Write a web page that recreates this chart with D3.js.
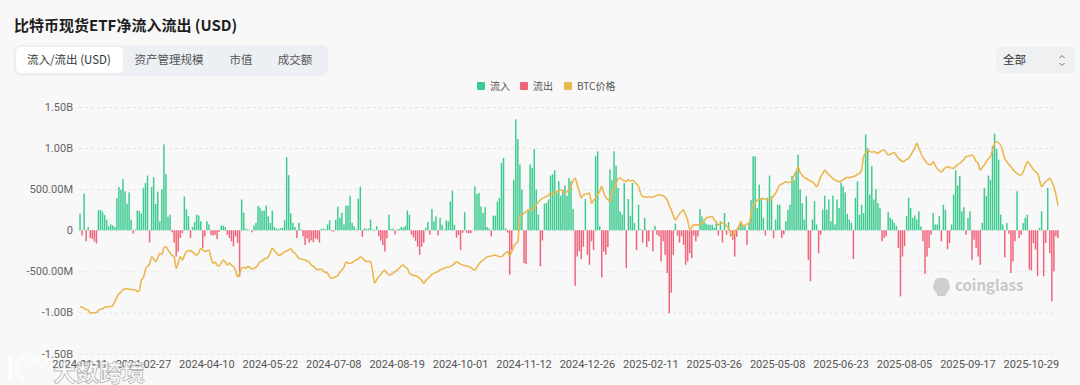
<!DOCTYPE html>
<html>
<head>
<meta charset="utf-8">
<script src="https://cdn.jsdelivr.net/npm/d3@7"></script>
<style>
  body { margin: 0; background: #f8f8f8; }
  #chart { width: 1080px; height: 385px; }
  text { font-family: "Noto Sans CJK SC", "Noto Sans", sans-serif; }
  .num { font-family: "Liberation Sans Narrow", "Roboto", sans-serif; }
</style>
</head>
<body>
<div id="chart"></div>
<script>
// daily net flow per trading day, in millions of USD
var flows = [
  200, -65, 447, -135, 40, -95, -105, -135, -160, 246,
  246, 227, 185, 130, 50, 70, 60, 40, 390, 527,
  494, 624, 473, 323, 461, 128, -40, 10, 240, 235,
  205, 515, 575, 665, -150, 525, 645, 320, 470, 110,
  500, 1045, 685, 165, 190, -25, -150, -320, -260, -95,
  -35, 410, 255, 170, -95, 40, 100, 190, 180, 110,
  -215, -75, 110, 70, -55, -65, -55, -107, -20, 57,
  57, 40, -55, -95, -135, -195, -75, -155, -565, 375,
  213, 20, 10, 5, -25, 57, 90, 295, 275, 235,
  238, 300, 170, 90, 240, 40, 20, 15, 25, 30,
  123, 890, 670, 205, 90, 40, -95, 90, 10, -75,
  -180, -100, -150, -125, -145, -100, -110, -150, 15, 20,
  10, 70, 123, -10, -15, 130, 287, 150, 213, 70,
  300, 300, 420, 90, 50, 10, 385, 530, -80, 25,
  15, 20, 130, 10, 5, 50, -75, -125, -180, -260,
  -100, 190, 15, 20, -50, 10, 15, 40, 30, 55,
  240, 190, -55, -90, -130, -200, -300, -200, -150, 30,
  100, -55, 258, 108, 168, -63, 150, 67, 10, 120,
  108, 350, 480, 67, -90, -60, -240, -30, 220, -30,
  -40, -35, 5, 535, 440, 455, 290, 210, 282, 40,
  20, -75, 177, 177, 350, 393, 820, 880, 20, -30,
  -540, -240, 615, 1350, 1110, 800, 495, -400, -410, 250,
  800, 760, 990, 495, 190, -440, -125, 323, 333, 373,
  665, 680, 730, 460, 595, 420, 495, 545, 420, 635,
  595, 258, -675, -320, -258, -350, -200, 380, -300, -420,
  -135, -240, 900, 960, 48, -575, -258, -300, -205, 740,
  610, 960, 785, 515, 230, 190, 575, -460, 380, 177,
  575, 87, -240, 310, 10, -150, 150, -205, -135, 5,
  -258, 55, -55, -75, -380, -135, -300, -520, -1010, -760,
  -300, 80, -65, -150, -75, -178, -420, -380, -280, -340,
  -65, -135, -75, 258, 168, 128, 80, 67, 67, 67,
  30, 90, -65, 110, -150, 210, -55, 100, -75, -115,
  -320, -80, 55, 100, 67, 55, -178, 90, 365, 900,
  900, 270, 555, 395, 150, -65, 395, 665, 415, -95,
  130, 310, 310, -95, -50, 110, 250, 310, 660, 610,
  720, 920, 495, 330, 130, 415, -360, -620, 130, 355,
  70, -280, -55, 250, 420, 250, 375, 110, 420, 70,
  375, 270, 580, 535, 460, 200, 130, 90, -350, 395,
  595, 190, 310, 210, 1165, 1000, 435, 780, 375, 500,
  330, 270, -135, -95, -75, 220, 150, 130, 90, 55,
  -215, -805, -320, -195, 170, 395, 270, 150, 180, 130,
  230, 45, -135, -530, -320, -215, -55, 210, 70, 70,
  170, -135, 310, 250, -230, -155, 70, 435, 730, 545,
  660, 230, 280, -55, 150, 230, -360, -115, -215, -320,
  -420, 90, 515, 420, 665, 615, 1025, 1175, 990, 860,
  190, 70, -330, 87, -40, -520, -380, -135, 475, -95,
  -55, 87, 150, 190, -480, -490, -155, -235, -560, 30,
  230, -560, -155, 515, -280, -865, -500, -75, -95
];

// btc price in thousands of USD, same days
var btcPrice = [
  42.8, 42.5, 42.0, 41.4, 41.2, 39.6, 39.9, 39.8, 40.0, 40.9,
  41.5, 41.8, 42.5, 42.7, 42.9, 42.8, 43.4, 45.2, 47.5, 49.0,
  49.8, 51.0, 51.4, 51.6, 51.3, 51.2, 50.9, 51.0, 50.1, 50.6,
  55.8, 57.0, 61.0, 62.5, 63.5, 67.1, 66.0, 64.7, 66.5, 68.8,
  68.2, 71.5, 72.0, 70.4, 69.0, 67.8, 67.1, 61.5, 64.0, 67.1,
  65.5, 67.5, 69.6, 70.0, 70.1, 69.5, 68.5, 67.9, 69.0, 71.2,
  70.5, 69.6, 70.0, 70.4, 66.5, 63.9, 64.5, 63.0, 62.6, 64.0,
  65.5, 64.5, 63.1, 64.0, 63.0, 62.3, 60.5, 57.4, 59.0, 61.5,
  62.0, 61.5, 62.3, 62.0, 61.0, 61.5, 62.0, 63.1, 64.7, 65.0,
  66.0, 66.3, 67.0, 69.0, 71.2, 70.0, 69.0, 67.9, 68.0, 68.8,
  69.5, 70.0, 70.4, 71.0, 69.6, 69.0, 67.5, 66.3, 66.0, 65.8,
  65.5, 65.0, 64.5, 63.1, 62.5, 61.5, 60.7, 61.0, 61.0, 60.0,
  59.5, 59.0, 57.5, 56.6, 57.0, 57.4, 58.0, 59.5, 60.7, 62.0,
  64.7, 64.0, 63.9, 64.2, 65.0, 65.5, 66.0, 67.1, 66.5, 65.5,
  64.7, 65.0, 64.7, 60.0, 54.2, 56.0, 57.4, 58.5, 59.8, 60.5,
  59.0, 58.2, 58.5, 59.0, 59.8, 60.5, 61.5, 62.5, 63.1, 62.0,
  61.5, 59.0, 58.5, 58.0, 57.8, 57.4, 56.6, 55.5, 54.2, 55.5,
  56.5, 57.5, 58.5, 59.0, 59.5, 60.0, 60.7, 61.0, 61.5, 62.0,
  62.0, 62.3, 63.0, 63.8, 64.7, 64.2, 63.5, 63.1, 62.8, 62.5,
  62.3, 61.8, 61.0, 60.7, 62.0, 63.5, 64.7, 65.5, 66.3, 67.1,
  67.3, 67.5, 67.8, 67.9, 67.5, 67.2, 67.1, 68.0, 69.0, 69.6,
  67.5, 69.5, 72.0, 73.5, 74.5, 86.7, 87.5, 88.3, 89.0, 89.9,
  90.0, 89.9, 91.0, 92.4, 93.5, 94.8, 95.5, 96.0, 96.4, 97.2,
  98.1, 97.8, 97.3, 98.9, 99.2, 99.7, 99.0, 98.1, 98.8, 99.7,
  101.4, 104.0, 105.4, 102.2, 99.0, 95.7, 97.3, 97.5, 97.8, 98.1,
  93.2, 94.5, 95.7, 97.5, 98.9, 101.4, 98.1, 96.0, 95.0, 94.0,
  98.1, 100.5, 102.5, 105.0, 105.4, 104.6, 104.0, 103.8, 104.5, 104.0,
  104.3, 103.5, 102.5, 101.4, 98.0, 96.5, 96.2, 96.0, 96.3, 96.1,
  96.1, 96.6, 97.0, 97.3, 97.0, 96.8, 96.0, 94.8, 92.0, 89.9,
  87.0, 85.0, 86.5, 88.0, 89.1, 89.9, 87.5, 85.0, 80.2, 81.5,
  82.6, 82.6, 82.6, 83.0, 83.4, 84.5, 85.9, 86.3, 86.5, 86.7,
  85.0, 84.0, 82.6, 83.0, 83.5, 83.4, 82.0, 81.0, 78.5, 76.9,
  79.3, 80.5, 81.8, 84.2, 81.7, 82.5, 83.0, 83.4, 88.0, 92.3,
  93.5, 94.7, 95.2, 95.0, 95.5, 95.0, 94.8, 94.7, 95.5, 96.7,
  98.0, 100.0, 102.0, 102.5, 103.0, 103.6, 103.2, 103.4, 103.6, 106.9,
  108.5, 110.9, 108.0, 106.9, 105.5, 105.3, 104.5, 104.0, 103.6, 102.5,
  101.2, 103.0, 106.1, 107.5, 109.3, 108.0, 107.0, 106.1, 105.0, 104.5,
  104.0, 103.6, 104.0, 104.5, 105.3, 105.8, 105.5, 106.0, 106.1, 106.5,
  107.2, 107.7, 109.3, 115.8, 117.5, 119.1, 118.5, 118.0, 118.3, 117.8,
  117.5, 118.2, 118.8, 119.1, 118.0, 116.6, 117.0, 117.5, 117.8, 116.5,
  115.0, 114.2, 113.4, 113.8, 114.5, 115.0, 116.5, 118.3, 120.0, 122.3,
  120.0, 117.5, 115.5, 114.0, 112.6, 112.0, 111.8, 113.4, 111.5, 110.0,
  109.0, 108.5, 109.5, 110.5, 110.9, 110.5, 110.3, 110.2, 111.0, 112.0,
  112.6, 113.5, 114.5, 115.8, 116.0, 116.3, 116.6, 115.5, 113.5, 112.6,
  109.3, 110.5, 111.8, 113.5, 114.8, 115.8, 119.0, 122.3, 123.1, 122.5,
  121.5, 118.5, 115.0, 113.4, 112.0, 110.9, 109.5, 108.5, 107.7, 107.0,
  106.9, 108.5, 111.0, 113.4, 112.5, 110.9, 109.5, 108.5, 107.7, 104.5,
  101.2, 102.5, 103.6, 104.5, 105.3, 103.5, 101.2, 97.5, 92.0
];

// x axis labels, one every 31 trading days
var tickLabels = ['2024-01-11', '2024-02-27', '2024-04-10', '2024-05-22', '2024-07-08',
  '2024-08-19', '2024-10-01', '2024-11-12', '2024-12-26', '2025-02-11', '2025-03-26',
  '2025-05-08', '2025-06-23', '2025-08-05', '2025-09-17', '2025-10-29'];
var tickStep = 31;

var yTicks = [-1.5e9, -1e9, -5e8, 0, 5e8, 1e9, 1.5e9];
var tabs = ['流入/流出 (USD)', '资产管理规模', '市值', '成交额'];
var legendItems = [
  { name: '流入', color: '#3ccb8f' },
  { name: '流出', color: '#f0637a' },
  { name: 'BTC价格', color: '#ebb74f' }
];

var svgWidth = 1080;
var svgHeight = 385;
var margin = { top: 107, bottom: 31.5, left: 79, right: 21 };
var chartWidth = svgWidth - margin.left - margin.right;
var chartHeight = svgHeight - margin.top - margin.bottom;

var svg = d3.select('#chart')
  .append('svg')
  .attr('width', svgWidth)
  .attr('height', svgHeight);

svg.append('rect')
  .attr('width', svgWidth)
  .attr('height', svgHeight)
  .attr('fill', '#f8f8f8');

// title
svg.append('text')
  .attr('x', 14)
  .attr('y', 31)
  .attr('font-size', 15)
  .attr('font-weight', 'bold')
  .attr('fill', '#1f1f1f')
  .text('比特币现货ETF净流入流出 (USD)');

// tab group
svg.append('rect')
  .attr('x', 14).attr('y', 45)
  .attr('width', 314).attr('height', 31)
  .attr('rx', 6)
  .attr('fill', '#eceff3');

svg.append('rect')
  .attr('x', 16).attr('y', 47)
  .attr('width', 107).attr('height', 26)
  .attr('rx', 5)
  .attr('fill', '#ffffff');

var tabX = [69, 169, 241, 295];
svg.selectAll('.tab')
  .data(tabs)
  .enter()
  .append('text')
  .attr('class', 'tab')
  .attr('x', (d, i) => tabX[i])
  .attr('y', 64)
  .attr('text-anchor', 'middle')
  .attr('font-size', 11.5)
  .attr('fill', (d, i) => i === 0 ? '#333' : '#555')
  .text(d => d);

// dropdown on the right
svg.append('rect')
  .attr('x', 996).attr('y', 47)
  .attr('width', 79).attr('height', 26)
  .attr('rx', 5)
  .attr('fill', '#eef0f2');
svg.append('text')
  .attr('x', 1003).attr('y', 64)
  .attr('font-size', 11.5)
  .attr('fill', '#333')
  .text('全部');
svg.append('path')
  .attr('d', 'M1059.5,58 L1062,55.5 L1064.5,58 M1059.5,63 L1062,65.5 L1064.5,63')
  .attr('fill', 'none')
  .attr('stroke', '#777')
  .attr('stroke-width', 1);

// legend
var legendX = [477, 520, 564];
var legend = svg.selectAll('.legend')
  .data(legendItems)
  .enter()
  .append('g')
  .attr('class', 'legend')
  .attr('transform', (d, i) => `translate(${legendX[i]}, 82)`);
legend.append('rect')
  .attr('width', 8).attr('height', 8)
  .attr('rx', 1)
  .attr('fill', d => d.color);
legend.append('text')
  .attr('x', 13).attr('y', 8)
  .attr('font-size', 10)
  .attr('fill', '#555')
  .text(d => d.name);

// scales
var xBand = d3.scaleBand()
  .domain(flows.map((d, i) => i))
  .range([margin.left, margin.left + chartWidth])
  .paddingInner(0.28)
  .paddingOuter(0.14);

var yFlow = d3.scaleLinear()
  .domain([-1.5e9, 1.5e9])
  .range([margin.top + chartHeight, margin.top]);

var yPrice = d3.scaleLinear()
  .domain([20000, 140000])
  .range([margin.top + chartHeight, margin.top]);

// gridlines and y labels via axisLeft
var yAxis = d3.axisLeft(yFlow)
  .tickValues(yTicks)
  .tickSize(-chartWidth)
  .tickFormat(d => {
    if (d === 0) return '0';
    var a = Math.abs(d);
    var s = a >= 1e9 ? (a / 1e9).toFixed(2) + 'B' : (a / 1e6).toFixed(2) + 'M';
    return (d < 0 ? '-' : '') + s;
  });

var yAxisGroup = svg.append('g')
  .attr('transform', `translate(${margin.left}, 0)`)
  .call(yAxis);
yAxisGroup.select('.domain').remove();
yAxisGroup.selectAll('line')
  .attr('stroke', '#e4e4e4')
  .attr('stroke-dasharray', '3,3');
yAxisGroup.selectAll('text')
  .attr('class', 'num')
  .attr('x', -6)
  .attr('font-size', 11)
  .attr('fill', '#666');

// watermark
var wm = svg.append('g').attr('transform', 'translate(933, 277)');
wm.append('path')
  .attr('d', 'M2,3 C4,0 13,0 15,3 L17,9 C17,13 14,15 13,17 L13,19 L4,19 L4,17 C3,15 0,13 0,9 Z')
  .attr('fill', '#cfcfcf');
wm.append('text')
  .attr('x', 22).attr('y', 14)
  .attr('font-family', 'Lato, "Open Sans", sans-serif')
  .attr('font-size', 15)
  .attr('font-weight', 'bold')
  .attr('fill', '#c9c9c9')
  .text('coinglass');

// bars
svg.append('g')
  .selectAll('rect')
  .data(flows)
  .enter()
  .append('rect')
  .attr('x', (d, i) => xBand(i))
  .attr('width', xBand.bandwidth())
  .attr('y', d => yFlow(Math.max(0, d * 1e6)))
  .attr('height', d => Math.abs(yFlow(d * 1e6) - yFlow(0)))
  .attr('fill', d => d >= 0 ? '#3ccb8f' : '#f0637a');

// btc price line
var priceLine = d3.line()
  .x((d, i) => xBand(i) + xBand.bandwidth() / 2)
  .y(d => yPrice(d * 1000))
  .curve(d3.curveMonotoneX);

svg.append('path')
  .datum(btcPrice)
  .attr('d', priceLine)
  .attr('fill', 'none')
  .attr('stroke', '#ebb74f')
  .attr('stroke-width', 1.6);

// x axis labels
var tickIdx = tickLabels.map((d, k) => k * tickStep);
var xAxis = d3.axisBottom(xBand)
  .tickValues(tickIdx)
  .tickSize(0)
  .tickFormat((d, k) => tickLabels[k]);

var xAxisGroup = svg.append('g')
  .attr('transform', `translate(0, ${margin.top + chartHeight + 4})`)
  .call(xAxis);
xAxisGroup.select('.domain').remove();
xAxisGroup.selectAll('text')
  .attr('class', 'num')
  .attr('font-size', 11)
  .attr('fill', '#555');

// repost watermark bottom left
var rp = svg.append('g').attr('opacity', 0.92);
rp.append('path')
  .attr('d', 'M10,356 L10,380 M24,357 C14,360 14,376 24,379')
  .attr('fill', 'none')
  .attr('stroke', '#ffffff')
  .attr('stroke-width', 3.5);
rp.append('circle').attr('cx', 32).attr('cy', 361).attr('r', 4)
  .attr('fill', 'none').attr('stroke', '#ffffff').attr('stroke-width', 2);
rp.append('circle').attr('cx', 42).attr('cy', 361).attr('r', 4)
  .attr('fill', 'none').attr('stroke', '#ffffff').attr('stroke-width', 2);
rp.append('text')
  .attr('x', 53).attr('y', 381)
  .attr('font-size', 23)
  .attr('font-weight', 'bold')
  .attr('fill', '#ffffff')
  .attr('stroke', '#a8a8a8')
  .attr('stroke-width', 0.7)
  .text('大数跨境');
</script>
</body>
</html>
